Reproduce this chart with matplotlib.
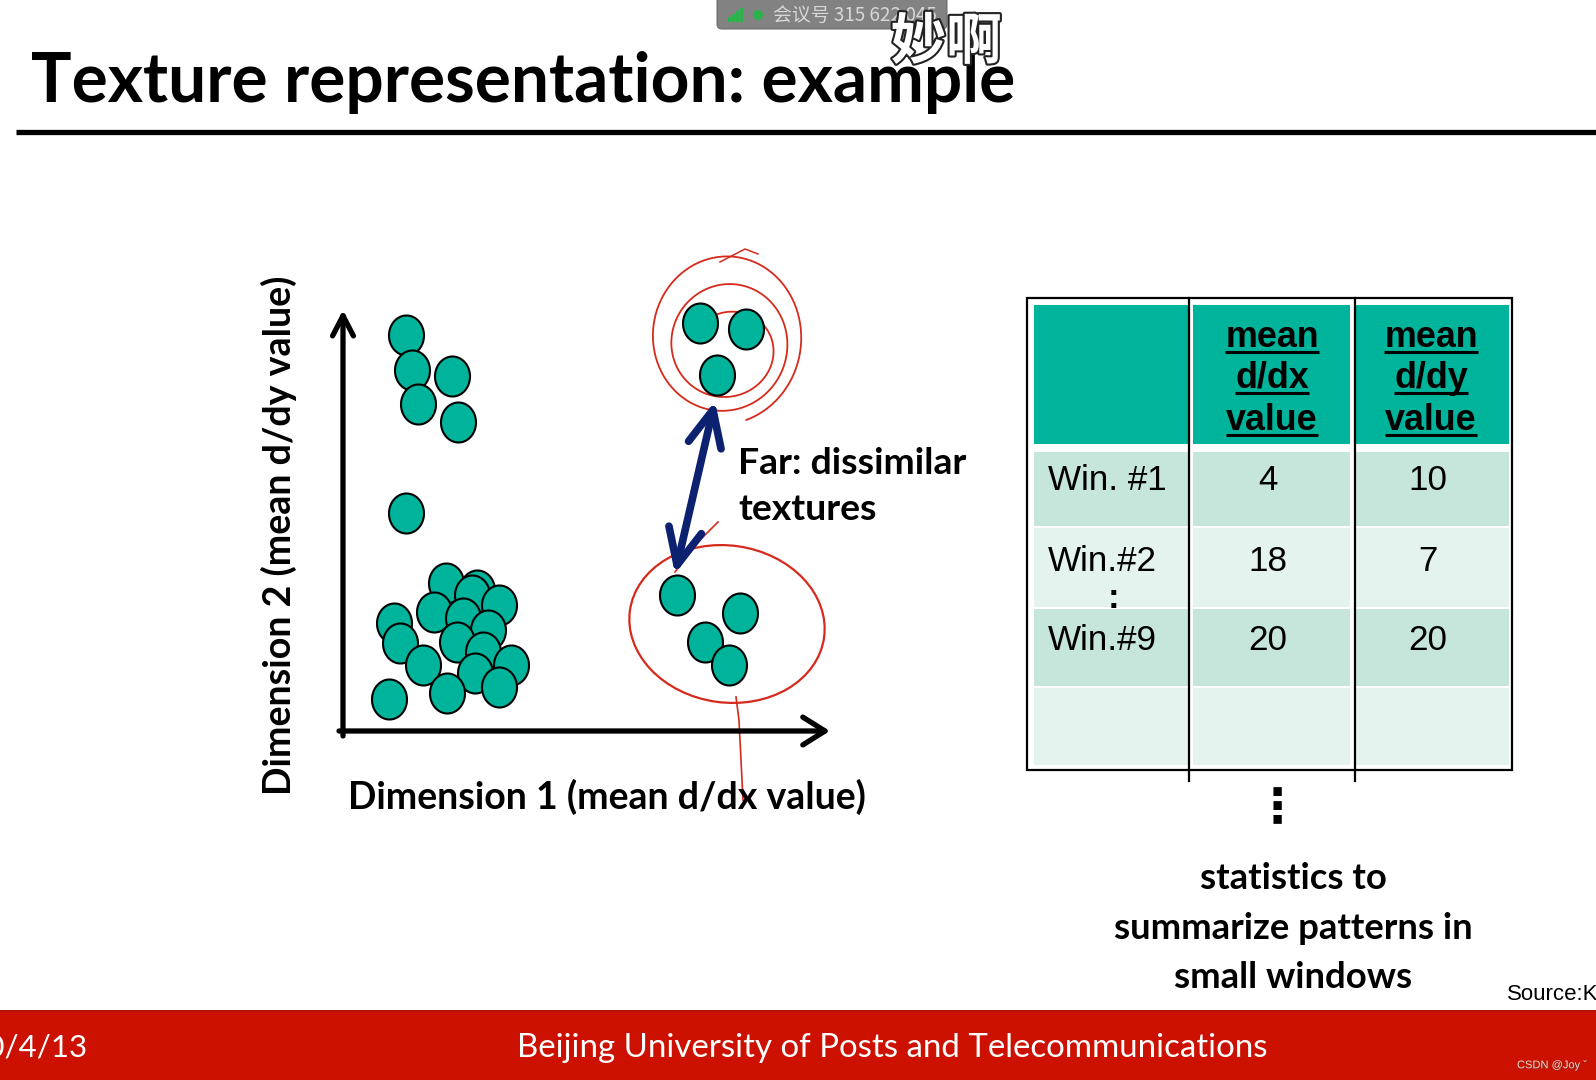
import numpy as np
import matplotlib
matplotlib.use('Agg')
import matplotlib.pyplot as plt
from matplotlib.path import Path
from matplotlib.patches import Rectangle, Ellipse, FancyBboxPatch
import matplotlib.patheffects as pe

# ---- data ----
# scatter: (mean d/dx, mean d/dy) per window, arbitrary units from the axis origin
dim1_left = [63, 69, 109, 75, 115, 63,
             103, 134, 129, 156, 91, 51, 57, 120, 145, 114, 80, 140, 168, 132, 104, 156, 46]
dim2_left = [396, 361, 355, 327, 309, 218,
             148, 141, 136, 126, 119, 108, 88, 113, 101, 89, 66, 79, 66, 58, 38, 44, 32]
dim1_right = [357, 403, 374, 334, 397, 362, 386]
dim2_right = [408, 402, 356, 136, 118, 89, 66]

# table
col_headers = ['mean d/dx value', 'mean d/dy value']
row_labels = ['Win. #1', 'Win.#2', 'Win.#9', '']
dx_vals = ['4', '18', '20', '']
dy_vals = ['10', '7', '20', '']

TEAL = '#00b39b'
NAVY = '#0c2170'
RED = '#d62a1c'

W, H = 1596, 1080
fig = plt.figure(figsize=(W / 100, H / 100), dpi=100)
fig.patch.set_facecolor('white')

# background axes in pixel units (y down)
bg = fig.add_axes([0, 0, 1, 1])
bg.set_xlim(0, W)
bg.set_ylim(H, 0)
bg.axis('off')

renderer = fig.canvas.get_renderer()


def fit(t, size, vertical=False):
    # scale the font so the text spans `size` pixels
    bb = t.get_window_extent(renderer)
    cur = bb.height if vertical else bb.width
    t.set_fontsize(t.get_fontsize() * size / cur)
    return t


# ---- title ----
title = bg.text(31, 102, 'Texture representation: example', family='Lato',
                weight='bold', fontsize=46, va='baseline', ha='left')
fit(title, 984)
bg.plot([16, W], [132, 132], color='black', lw=3.8, solid_capstyle='butt')

# ---- scatter panel ----
x0, y0, x1, y1 = 343, 731, 830, 307
ax = fig.add_axes([x0 / W, 1 - y0 / H, (x1 - x0) / W, (y0 - y1) / H])
ax.set_xlim(0, x1 - x0)
ax.set_ylim(0, y0 - y1)
ax.axis('off')

th = np.linspace(0, 2 * np.pi, 60)
ell = Path(np.column_stack([0.875 * np.cos(th), np.sin(th)]), closed=True)
ax.scatter(dim1_left, dim2_left, marker=ell, s=830, c=TEAL,
           edgecolors='black', linewidths=1.5, clip_on=False, zorder=3)
ax.scatter(dim1_right, dim2_right, marker=ell, s=830, c=TEAL,
           edgecolors='black', linewidths=1.5, clip_on=False, zorder=3)

ax.annotate('', xy=(0, 421), xytext=(0, -5),
            arrowprops=dict(arrowstyle='->,head_length=1.45,head_width=0.75',
                            lw=3.8, color='black', mutation_scale=10,
                            shrinkA=0, shrinkB=0), annotation_clip=False)
ax.annotate('', xy=(487, 0), xytext=(-4, 0),
            arrowprops=dict(arrowstyle='->,head_length=1.6,head_width=1.0',
                            lw=3.8, color='black', mutation_scale=10,
                            shrinkA=0, shrinkB=0), annotation_clip=False)

xl = bg.text(607, 809, 'Dimension 1 (mean d/dx value)', family='Lato', weight='bold',
             fontsize=26, ha='center', va='baseline')
fit(xl, 520)
yl = bg.text(291, 535, 'Dimension 2 (mean d/dy value)', family='Lato', weight='bold',
             fontsize=26, ha='center', va='baseline', rotation=90, rotation_mode='anchor')
fit(yl, 521, vertical=True)

# double arrow between the two groups
bg.annotate('', xy=(715, 401), xytext=(675, 574),
            arrowprops=dict(arrowstyle='<->,head_length=1.3,head_width=0.6',
                            lw=5.5, color=NAVY, mutation_scale=20,
                            shrinkA=0, shrinkB=0, joinstyle='round', capstyle='round'))
far1 = bg.text(738, 474, 'Far: dissimilar', family='Lato', weight='bold',
               fontsize=24, va='baseline')
fit(far1, 229)
bg.text(738, 520, 'textures', family='Lato', weight='bold',
        fontsize=far1.get_fontsize(), va='baseline')

# red hand-drawn marks
t = np.linspace(0, 2.6 * 2 * np.pi, 500)
f = t / t[-1]
ang = -2.5 + t
cx = 728 - 6 * f
cy = 352 - 18 * f
rx = 40 + 42 * f
ry = 36 + 54 * f
bg.plot(cx + rx * np.cos(ang), cy + ry * np.sin(ang), color=RED, lw=1.3)
bg.plot([720, 745, 758], [262, 249, 254], color=RED, lw=1.1)
bg.add_patch(Ellipse((727, 624), 196, 157, angle=8, fill=False, ec=RED, lw=1.6))
bg.plot([675, 695, 718], [572, 545, 522], color=RED, lw=1.2)
bg.plot([736, 739, 741, 743], [697, 720, 760, 800], color=RED, lw=1.2)

# ---- table ----
col_x = [(1034, 1188), (1193, 1350), (1356, 1509)]
row_y = [(305, 444), (452, 526), (528, 607), (609, 686), (688, 765)]
row_colors = [TEAL, '#c6e6dc', '#e5f3ef', '#c6e6dc', '#e5f3ef']
for (ya, yb), rc in zip(row_y, row_colors):
    for xa, xb in col_x:
        bg.add_patch(Rectangle((xa, ya), xb - xa, yb - ya, fc=rc, ec='none'))
bg.add_patch(Rectangle((1027, 298), 485, 472, fill=False, ec='black', lw=1.6))
for xv in [1189, 1355]:
    bg.plot([xv, xv], [298, 781], color='black', lw=1.6)

# header words, underlined
hdr_size = None
for ci, hdr in enumerate(col_headers):
    xc = [1272, 1431][ci]
    for word, yb in zip(hdr.split(), [347, 388, 430]):
        tw = bg.text(xc, yb, word, family='Liberation Sans', weight='bold',
                     fontsize=hdr_size or 24, ha='center', va='baseline')
        if hdr_size is None:
            fit(tw, 94)
            hdr_size = tw.get_fontsize()
        bb = tw.get_window_extent(renderer).transformed(bg.transData.inverted())
        bg.plot([bb.x0, bb.x1], [yb + 5, yb + 5], color='black', lw=2.2,
                solid_capstyle='butt')

cell_size = None
for lab, dxv, dyv, yb in zip(row_labels, dx_vals, dy_vals, [490, 571, 650, 728]):
    tl = bg.text(1048, yb, lab, family='Liberation Sans', fontsize=cell_size or 22,
                 va='baseline')
    if cell_size is None:
        fit(tl, 118)
        cell_size = tl.get_fontsize()
    bg.text(1268, yb, dxv, family='Liberation Sans', fontsize=cell_size,
            ha='center', va='baseline')
    bg.text(1428, yb, dyv, family='Liberation Sans', fontsize=cell_size,
            ha='center', va='baseline')
bg.text(1113, 598, ':', family='Liberation Sans', weight='bold', fontsize=cell_size,
        ha='center', va='center')

# below-table notes
bg.text(1277, 810, '⋮', family='DejaVu Sans', weight='bold', fontsize=34,
        ha='center', va='center')
st = bg.text(1293, 939, 'summarize patterns in', family='Lato', weight='bold',
             fontsize=24, ha='center', va='baseline')
fit(st, 360)
bg.text(1293, 889, 'statistics to', family='Lato', weight='bold',
        fontsize=st.get_fontsize(), ha='center', va='baseline')
bg.text(1293, 988, 'small windows', family='Lato', weight='bold',
        fontsize=st.get_fontsize(), ha='center', va='baseline')
bg.text(1507, 995, 'Source:K', family='Liberation Sans', fontsize=16,
        ha='left', va='center')

# ---- footer banner ----
bg.add_patch(Rectangle((0, 1010), W, 70, fc='#cc1100', ec='none'))
bg.plot([0, W], [1010.5, 1010.5], color='#9e1a10', lw=1.2, alpha=0.6)
ft = bg.text(892, 1048, 'Beijing University of Posts and Telecommunications',
             family='Lato', fontsize=22, color='white', ha='center', va='center')
fit(ft, 747)
bg.text(88, 1048, '2020/4/13', family='Lato', fontsize=ft.get_fontsize() * 0.95,
        color='white', ha='right', va='center')
bg.text(1517, 1065, 'CSDN @Joy ˇ', family='Liberation Sans', fontsize=8,
        color='#f0d8d0', ha='left', va='center',
        path_effects=[pe.withSimplePatchShadow(offset=(0.6, -0.6), alpha=0.5)])

# ---- meeting overlay ----
bg.add_patch(FancyBboxPatch((717, -10), 230, 39, boxstyle='round,pad=0,rounding_size=5',
                            fc='#7b7b7b', ec='#6a6a6a', lw=0.8, alpha=0.95, zorder=5))
for i, hgt in enumerate([5, 8, 11, 14]):
    bg.add_patch(Rectangle((728 + i * 4, 22 - hgt), 3, hgt, fc='#2bb24c', ec='none', zorder=6))
bg.add_patch(Ellipse((758, 15), 10, 10, fc='#2bb24c', ec='none', zorder=6))
mt = bg.text(773, 15, '会议号 315 622 045', family=['Noto Sans CJK SC', 'DejaVu Sans'],
             fontsize=12, color='#d8d8d8', ha='left', va='center', zorder=6)
fit(mt, 164)
bg.text(946, 43, '妙啊', family=['Noto Sans CJK SC', 'DejaVu Sans'], weight='bold',
        fontsize=40, color='white', ha='center', va='center', zorder=7,
        path_effects=[pe.withStroke(linewidth=3, foreground='#222222')])

fig.savefig('out.png', dpi=100)
